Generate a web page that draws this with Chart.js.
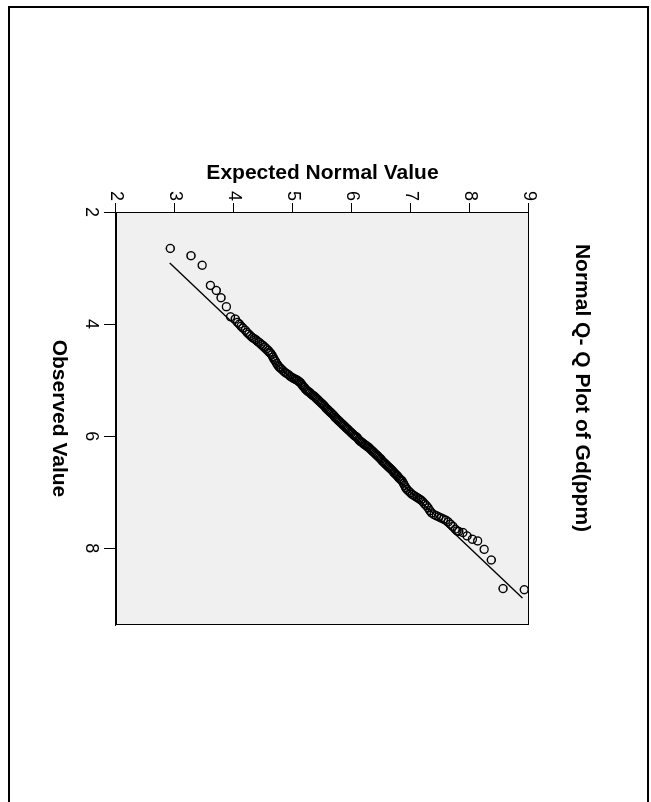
<!DOCTYPE html>
<html>
<head>
<meta charset="utf-8">
<script src="https://cdn.jsdelivr.net/npm/chart.js@4.4.0/dist/chart.umd.min.js"></script>
<style>
html,body{margin:0;padding:0;background:#fff;overflow:hidden;width:651px;height:802px;}
#frame{position:absolute;left:8px;top:6px;width:637px;height:820px;border:2px solid #000;}
#rot{position:absolute;left:0;top:0;width:802px;height:651px;transform-origin:0 0;transform:translate(651px,0) rotate(90deg);}
</style>
</head>
<body>
<div id="frame"></div>
<div id="rot"><canvas id="chart" width="802" height="651"></canvas></div>
<script>
// Q-Q plot values, in rank order
const observed = [
2.65,2.78,2.95,3.31,3.40,3.53,3.69,3.87,
3.91,3.97,4.00,4.04,4.07,4.11,4.15,4.18,4.21,4.24,4.26,4.28,4.31,4.33,4.36,4.38,
4.41,4.44,4.47,4.50,4.52,4.55,4.59,4.63,4.66,4.70,4.73,4.76,4.78,4.80,4.83,4.86,4.88,4.90,4.93,4.95,
4.97,4.98,4.99,5.00,5.02,5.03,5.05,5.08,5.11,5.13,
5.16,5.18,5.20,5.21,5.23,5.25,5.27,5.28,5.30,5.32,
5.34,5.36,5.38,5.40,5.42,5.44,5.46,5.49,5.51,5.53,
5.55,5.57,5.59,5.61,5.63,5.66,5.68,5.70,5.72,5.74,
5.76,5.78,5.80,5.82,5.84,5.86,5.88,5.90,5.92,5.94,
5.96,5.98,6.00,6.01,6.03,6.06,6.08,6.10,6.11,6.13,
6.15,6.16,6.18,6.19,6.21,6.23,6.25,6.27,6.29,6.31,
6.33,6.35,6.37,6.39,6.41,6.44,6.46,6.48,6.50,6.52,
6.54,6.56,6.58,6.60,6.62,6.65,6.67,6.69,6.71,6.74,
6.76,6.78,
6.80,6.84,6.88,6.92,6.95,6.98,7.01,7.04,7.06,7.08,7.10,7.12,7.14,7.17,7.21,7.24,7.28,7.33,
7.37,7.40,7.42,7.44,7.46,7.48,7.50,7.53,7.57,7.61,7.66,7.69,
7.70,7.72,7.78,7.84,7.87,8.02,8.21,8.72,8.74
];
const expected = [
2.92,3.27,3.46,3.60,3.70,3.78,3.87,3.94,
4.02,4.06,4.09,4.12,4.15,4.19,4.22,4.25,4.28,4.31,4.34,4.37,4.40,4.43,4.46,4.49,
4.52,4.55,4.58,4.60,4.62,4.64,4.66,4.68,4.70,4.72,4.74,4.76,4.78,4.80,4.83,4.86,4.89,4.92,4.95,4.98,
5.01,5.03,5.05,5.07,5.09,5.11,5.13,5.15,5.17,5.19,
5.21,5.23,5.25,5.27,5.29,5.31,5.33,5.35,5.37,5.39,
5.41,5.43,5.45,5.47,5.49,5.51,5.53,5.55,5.57,5.59,
5.61,5.63,5.65,5.67,5.69,5.71,5.73,5.75,5.77,5.79,
5.81,5.83,5.85,5.87,5.89,5.91,5.93,5.95,5.97,5.99,
6.01,6.03,6.05,6.07,6.09,6.11,6.13,6.15,6.17,6.19,
6.21,6.23,6.25,6.27,6.29,6.31,6.33,6.35,6.37,6.39,
6.41,6.43,6.45,6.47,6.49,6.51,6.53,6.55,6.57,6.59,
6.61,6.63,6.65,6.67,6.69,6.71,6.73,6.75,6.77,6.79,
6.81,6.83,
6.85,6.87,6.89,6.91,6.93,6.96,6.99,7.02,7.05,7.08,7.11,7.14,7.17,7.20,7.23,7.26,7.29,7.32,
7.35,7.39,7.43,7.47,7.51,7.55,7.59,7.63,7.67,7.71,7.75,7.78,
7.81,7.88,7.95,8.04,8.13,8.24,8.36,8.56,8.92
];
const refLine = [2.91, 8.89];
const obsTicks = [2,4,6,8];
const expTicks = [2,3,4,5,6,7,8,9];

Chart.defaults.font.family = '"Liberation Sans", Arial, sans-serif';
Chart.defaults.color = '#000';

const plotBox = {
  id: 'plotBox',
  beforeDraw(c){
    const a = c.chartArea, ctx = c.ctx;
    ctx.save();
    ctx.fillStyle = '#f0f0f0';
    ctx.fillRect(a.left, a.top, a.right - a.left, a.bottom - a.top);
    ctx.restore();
  },
  afterDraw(c){
    const a = c.chartArea, ctx = c.ctx;
    ctx.save();
    ctx.strokeStyle = '#000';
    ctx.lineWidth = 1;
    ctx.strokeRect(a.left + 0.5, a.top + 0.5, a.right - a.left - 1, a.bottom - a.top - 1);
    ctx.restore();
  }
};

let pts = observed.map((o, i) => ({x: o, y: expected[i]}));

new Chart(document.getElementById('chart'), {
  type: 'scatter',
  data: {
    datasets: [{
      data: pts,
      pointRadius: 4,
      pointStyle: 'circle',
      borderColor: '#000',
      backgroundColor: 'rgba(0,0,0,0)',
      borderWidth: 1.4
    }, {
      data: refLine.map(v => ({x: v, y: v})),
      showLine: true,
      pointRadius: 0,
      borderColor: '#000',
      borderWidth: 1.3
    }]
  },
  options: {
    responsive: false,
    animation: false,
    layout: {padding: {left: 151, right: 177, top: 40, bottom: 30}},
    plugins: {
      legend: {display: false},
      tooltip: {enabled: false},
      title: {
        display: true,
        text: 'Normal Q- Q Plot of Gd(ppm)',
        font: {size: 21, weight: 'bold'},
        color: '#000',
        padding: {top: 16.4, bottom: 40.4}
      }
    },
    scales: {
      x: {
        type: 'linear', position: 'bottom', min: 2, max: 9.37,
        afterBuildTicks: s => { s.ticks = obsTicks.map(v => ({value: v})); },
        afterFit: s => { s.height = 86; },
        ticks: {font: {size: 18}, color: '#000', padding: 2},
        grid: {drawOnChartArea: false, tickLength: 12, color: '#000'},
        border: {color: '#000'},
        title: {display: true, text: 'Observed Value', font: {size: 21, weight: 'bold'}, color: '#000', padding: {top: 0, bottom: 16.4}}
      },
      y: {
        type: 'linear', position: 'left', min: 2, max: 9,
        afterBuildTicks: s => { s.ticks = expTicks.map(v => ({value: v})); },
        afterFit: s => { s.width = 61; },
        ticks: {font: {size: 18}, color: '#000', padding: 2},
        grid: {drawOnChartArea: false, tickLength: 9, color: '#000'},
        border: {color: '#000'},
        title: {display: true, text: 'Expected Normal Value', font: {size: 21, weight: 'bold'}, color: '#000', padding: {top: 9.4, bottom: 0}}
      }
    }
  },
  plugins: [plotBox]
});
</script>
</body>
</html>
